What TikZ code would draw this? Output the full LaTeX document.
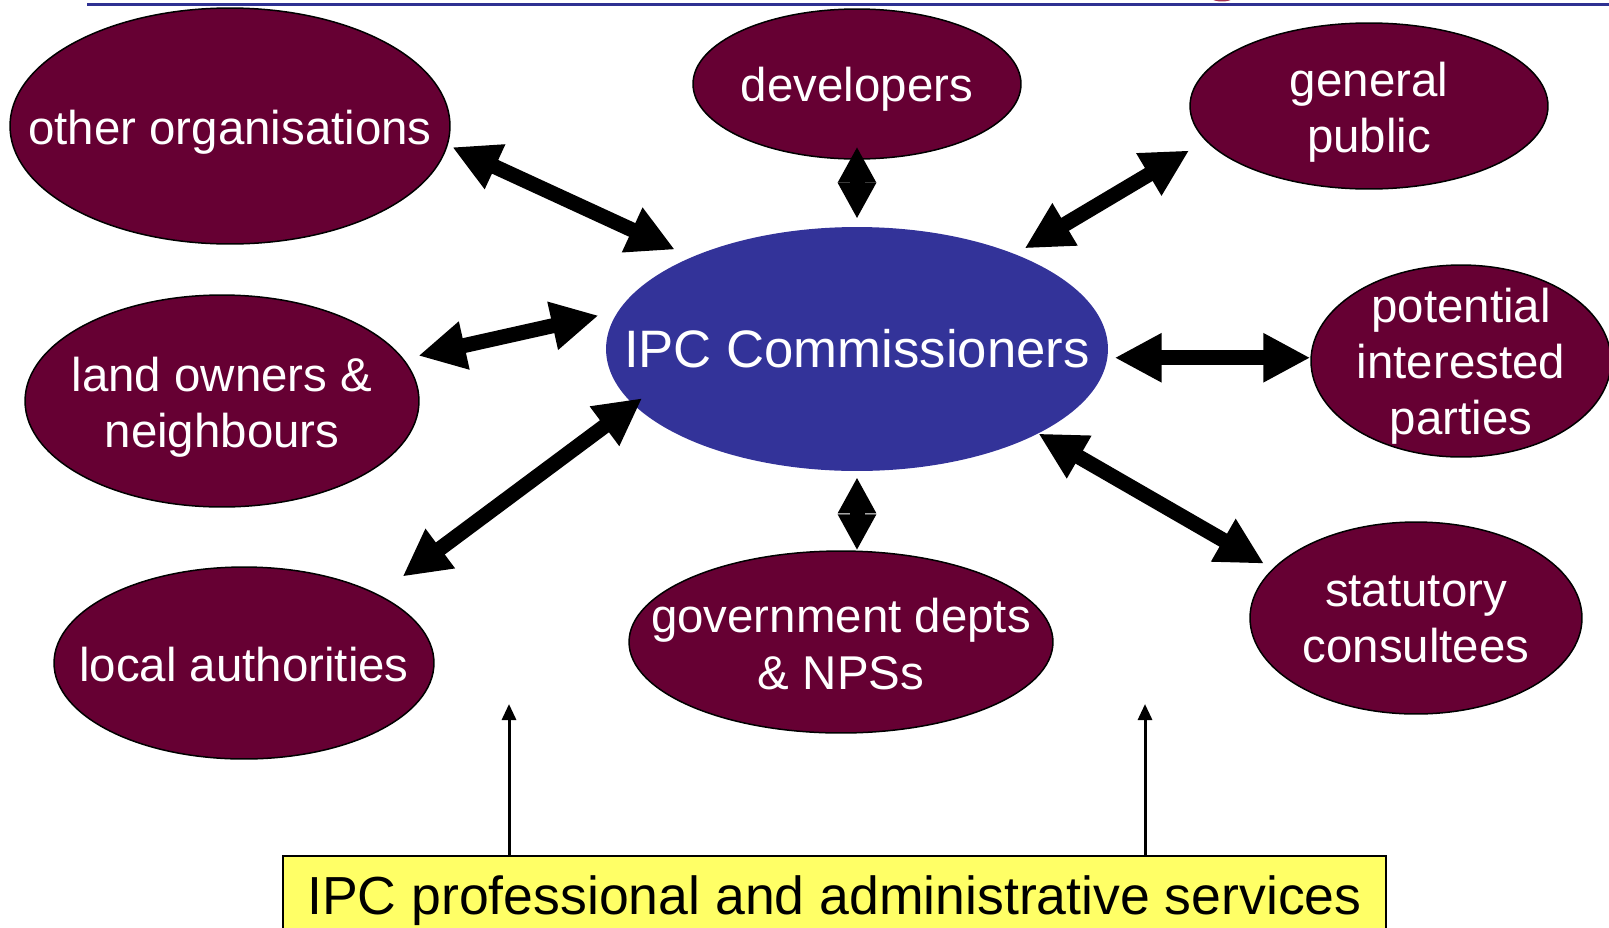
\documentclass[tikz,border=0pt]{standalone}
\usepackage{fontspec}
\setmainfont{Liberation Sans}
\usetikzlibrary{shapes.geometric,arrows.meta,calc}
\definecolor{ipcMaroon}{HTML}{660033}
\definecolor{ipcBlue}{HTML}{333399}
\definecolor{ipcYellow}{HTML}{FFFF66}
\definecolor{ipcRule}{HTML}{2E3192}
\definecolor{ipcRed}{HTML}{A3304F}
\newcommand{\partyfont}{\fontsize{27}{32}\selectfont}
\newcommand{\centerfont}{\fontsize{30}{36}\selectfont}
\newcommand{\servfont}{\fontsize{30.5}{36}\selectfont}
\tikzset{
  party/.style={ellipse, draw=black, line width=0.03cm, fill=ipcMaroon, inner sep=0pt},
  every label/.style={text=white, align=center, font=\partyfont, inner sep=0pt},
  twoWay/.style={line width=0.3cm, {Triangle[length=0.94cm,width=0.92cm]}-{Triangle[length=0.94cm,width=0.92cm]}},
  shortWay/.style={line width=0.3cm, {Triangle[length=0.72cm,width=0.72cm]}-{Triangle[length=0.72cm,width=0.72cm]}},
  thinWay/.style={line width=0.06cm, -{Triangle[length=0.32cm,width=0.28cm]}}
}
\begin{document}
\begin{tikzpicture}[x=0.02cm,y=-0.02cm]
\useasboundingbox (0,0) rectangle (1609,927);
%% header rule
\fill[ipcRed] (1222,-27) circle (0.57cm);
\draw[ipcRule, line width=0.06cm] (87,4.7) -- (1609,4.7);
%the nodes
\node[ellipse, fill=ipcBlue, inner sep=0pt, minimum width=10.04cm, minimum height=4.88cm, label={[font=\centerfont]center:IPC Commissioners}] (ipcCenter) at (857,349) {};
\node[party, minimum width=8.8cm, minimum height=4.72cm, label={[yshift=-0.12cm]center:other organisations}] (ipcOther) at (230,126) {};
\node[party, minimum width=6.56cm, minimum height=3.0cm, label={[yshift=-0.1cm]center:developers}] (ipcDevelopers) at (857,84) {};
\node[party, minimum width=7.16cm, minimum height=3.32cm, label={[yshift=-0.12cm]center:general\\public}] (ipcPublic) at (1369,106) {};
\node[party, minimum width=7.88cm, minimum height=4.24cm, label={[yshift=-0.12cm]center:land owners \&\\neighbours}] (ipcLand) at (222,401) {};
\node[party, minimum width=6.0cm, minimum height=3.84cm, label={[yshift=-0.1cm]center:potential\\interested\\parties}] (ipcPotential) at (1461,361) {};
\node[party, minimum width=7.6cm, minimum height=3.84cm, label={[yshift=-0.04cm]center:local authorities}] (ipcLocal) at (244,663) {};
\node[party, minimum width=8.48cm, minimum height=3.64cm, label={[yshift=-0.04cm]center:government depts\\\& NPSs}] (ipcGov) at (841,642) {};
\node[party, minimum width=6.64cm, minimum height=3.84cm, label={[yshift=-0.02cm]center:statutory\\consultees}] (ipcStatutory) at (1416,618) {};
\node[draw=black, line width=0.04cm, fill=ipcYellow, inner sep=0pt, minimum width=22.06cm, minimum height=1.8cm, anchor=north, font=\servfont] (ipcServices) at (834.5,855) {IPC professional and administrative services};
\coordinate (servLeft) at (509,704);
\coordinate (servRight) at (1145,704);
%drawings of arrows
\draw[twoWay, shorten <=0.1cm, shorten >=0.36cm] (ipcOther.355) -- (ipcCenter.151);
\draw[shortWay, shorten <=-0.26cm, shorten >=0.16cm] (ipcDevelopers.south) -- (ipcCenter.north);
\draw[twoWay, shorten <=0.38cm, shorten >=0.22cm] (ipcPublic.192) -- (ipcCenter.31);

\draw[twoWay, shorten <=0.3cm, shorten >=0.4cm] (ipcLand.13) -- (ipcCenter.171);
\draw[twoWay, shorten <=0.14cm] (ipcCenter.358) -- (ipcCenter.358 -| ipcPotential.west);

\draw[twoWay, shorten <=0.6cm, shorten >=-0.22cm] (ipcLocal.27) -- (ipcCenter.194);
\draw[shortWay, shorten <=0.12cm] (ipcCenter.south) -- (ipcCenter.south |- ipcGov.north);
\draw[twoWay, shorten >=0.2cm] (ipcCenter.335) -- (ipcStatutory.161);

\draw[thinWay] (ipcServices.north -| servLeft) -- (servLeft);
\draw[thinWay] (ipcServices.north -| servRight) -- (servRight);
\end{tikzpicture}
\end{document}
